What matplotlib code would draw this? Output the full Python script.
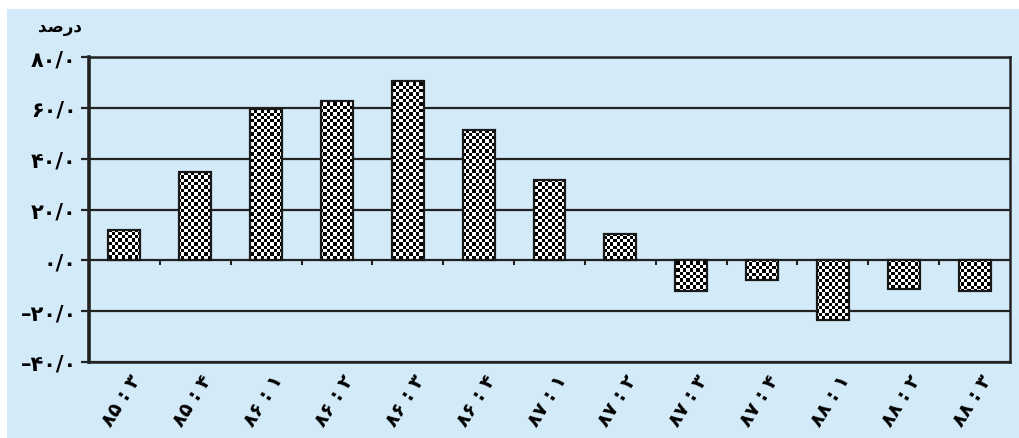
import numpy as np
import matplotlib
matplotlib.use("Agg")
import matplotlib.pyplot as plt
from matplotlib.patches import Rectangle

categories = ["۸۵ : ۳", "۸۵ : ۴", "۸۶ : ۱", "۸۶ : ۲", "۸۶ : ۳", "۸۶ : ۴", "۸۷ : ۱",
              "۸۷ : ۲", "۸۷ : ۳", "۸۷ : ۴", "۸۸ : ۱", "۸۸ : ۲", "۸۸ : ۳"]
values = [11.9, 34.8, 59.6, 62.7, 70.5, 51.1, 31.8, 10.2,
          -12.2, -7.6, -23.3, -11.4, -12.0]
yticks = [-40, -20, 0, 20, 40, 60, 80]
ytick_labels = ["–۴۰/۰", "–۲۰/۰", "۰/۰", "۲۰/۰", "۴۰/۰", "۶۰/۰", "۸۰/۰"]
unit_label = "\uFEAA\uFEBB\u0631\u062F"  # درصد (pre-shaped, visual order)

plt.rcParams['font.family'] = ['DejaVu Sans']
W, H = 1019, 439
fig = plt.figure(figsize=(W / 100, H / 100), dpi=100)
fig.patch.set_facecolor('white')
bg = '#d3ebf9'
fig.add_artist(Rectangle((7 / W, 0), 1 - 7 / W, 1 - 10 / H, transform=fig.transFigure,
                         facecolor=bg, edgecolor='none', zorder=0))

ax = fig.add_axes([89 / W, 1 - 363 / H, (1010 - 89) / W, (363 - 58) / H])
ax.set_facecolor(bg)
ax.set_xlim(-0.5, len(categories) - 0.5)
ax.set_ylim(-40, 80)

x = np.arange(len(categories))
bw = 0.45
bars = ax.bar(x, values, width=bw, facecolor='none', edgecolor='#1a1a1a',
              linewidth=1.6, zorder=3)

# checkerboard fill for each bar, clipped to the bar shape
cell_px = 3.3
ax_w_px = 1010 - 89
ax_h_px = 363 - 58
ncols = int(ax_w_px / cell_px)
nrows = int(ax_h_px / cell_px)
checker = (np.add.outer(np.arange(nrows), np.arange(ncols)) % 2).astype(float)
for b in bars:
    im = ax.imshow(checker, cmap='gray', vmin=0, vmax=1, interpolation='nearest',
                   extent=(-0.5, len(categories) - 0.5, -40, 80), aspect='auto', zorder=2)
    im.set_clip_path(b)

for yv in yticks:
    ax.axhline(yv, color='#222222', linewidth=1.6, zorder=1)

for s in ax.spines.values():
    s.set_color('#222222')
    s.set_linewidth(1.8)
ax.spines['left'].set_linewidth(2.6)

ax.set_yticks(yticks)
ax.set_yticklabels(ytick_labels, fontsize=15, fontweight='bold')
ax.tick_params(axis='y', length=6, width=1.6, color='#222222', pad=3)

ax.set_xticks([])
# small tick marks below zero line at category boundaries
for xb in np.arange(1, len(categories)) - 0.5:
    ax.plot([xb, xb], [0, -1.3], color='#222222', linewidth=1.5, zorder=1)

for xi, lab in zip(x, categories):
    ax.annotate(lab, xy=(xi, -40), xycoords='data', xytext=(9, -10),
                textcoords='offset points', rotation=58, rotation_mode='anchor',
                ha='right', va='center', fontsize=14, fontweight='bold')

fig.text(60 / W, 1 - 27 / H, unit_label, fontsize=12, fontweight='bold',
         ha='center', va='center')

fig.savefig('out.png', dpi=100, facecolor=fig.get_facecolor())
